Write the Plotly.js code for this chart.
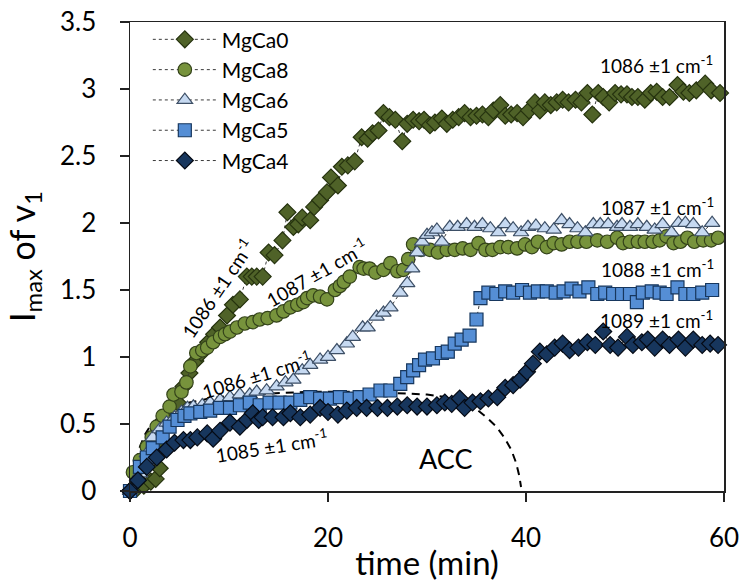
<!DOCTYPE html>
<html>
<head>
<meta charset="utf-8">
<script src="https://cdn.plot.ly/plotly-3.0.1.min.js"></script>
<style>html,body{margin:0;padding:0;background:#fff;}#chart{width:743px;height:582px;}</style>
</head>
<body>
<div id="chart"></div>
<script>
// ---- data ----
var seriesNames = ["MgCa0", "MgCa8", "MgCa6", "MgCa5", "MgCa4"];

var mgca0X = [0,0.7,1.4,2.1,2.6,3.0,3.6,4.2,4.8,5.4,6.0,6.6,7.2,7.9,8.5,9.1,9.8,10.4,11.1,11.8,12.3,12.8,13.4,14.0,14.6,15.4,15.9,16.5,17.0,17.4,18.2,18.6,19.2,19.9,20.3,21.0,21.4,22.0,22.7,23.4,24.0,24.5,25.1,25.6,26.2,26.8,27.5,28.0,28.6,29.2,29.7,30.3,30.8,31.5,32.0,32.6,33.2,33.8,34.4,35.0,35.6,36.2,36.7,37.4,37.9,38.5,39.1,39.7,40.3,40.9,41.4,41.9,42.5,43.1,43.7,44.3,45.0,45.6,46.2,46.7,47.3,47.8,48.4,49.0,49.6,50.2,50.7,51.3,52.0,52.6,53.2,53.8,54.5,55.3,55.9,56.5,57.2,58.1,58.7,59.6];
var mgca0Y = [0,0.02,0.04,0.07,0.09,0.17,0.35,0.52,0.66,0.78,0.88,0.97,1.03,1.11,1.17,1.22,1.31,1.39,1.43,1.60,1.60,1.60,1.60,1.78,1.76,1.87,2.08,1.97,1.99,2.04,2.02,2.12,2.17,2.23,2.34,2.28,2.42,2.43,2.46,2.64,2.63,2.67,2.69,2.82,2.79,2.77,2.61,2.74,2.77,2.76,2.77,2.73,2.75,2.78,2.74,2.77,2.79,2.82,2.79,2.80,2.81,2.79,2.84,2.88,2.80,2.81,2.82,2.79,2.84,2.90,2.84,2.90,2.88,2.90,2.92,2.90,2.92,2.90,2.97,2.81,2.97,2.94,2.90,2.97,2.96,2.96,2.94,2.94,2.92,2.97,2.98,2.94,2.94,3.03,2.98,2.97,2.99,3.04,2.99,2.97];

var mgca8X = [0,0.3,1.0,1.7,2.2,2.7,3.3,4.0,4.4,5.2,5.7,6.1,6.7,7.3,7.8,8.4,9.1,9.6,10.1,10.8,11.6,12.4,13.1,13.9,14.8,15.5,16.2,16.9,17.5,17.9,18.5,19.2,19.9,20.7,21.2,21.6,22.2,23.2,23.6,24.2,24.8,25.6,26.3,27.0,27.6,28.1,28.6,29.4,30.3,31.1,32.0,32.8,33.6,34.4,35.2,35.9,36.6,37.4,38.2,39.1,39.9,40.6,41.2,42.1,42.8,43.6,44.4,45.2,46.1,47.2,48.2,49.2,49.8,50.5,51.3,52.0,52.8,53.5,54.2,54.9,55.6,56.3,57.0,57.9,58.7,59.4];
var mgca8Y = [0,0.14,0.23,0.33,0.40,0.48,0.56,0.63,0.72,0.74,0.81,0.93,1.03,1.05,1.07,1.11,1.15,1.17,1.19,1.22,1.25,1.26,1.28,1.29,1.31,1.34,1.37,1.39,1.41,1.44,1.46,1.45,1.43,1.50,1.53,1.56,1.60,1.67,1.66,1.66,1.63,1.65,1.70,1.64,1.65,1.73,1.84,1.80,1.80,1.78,1.80,1.80,1.81,1.80,1.85,1.80,1.80,1.82,1.82,1.81,1.84,1.82,1.86,1.82,1.85,1.84,1.86,1.86,1.86,1.87,1.86,1.89,1.85,1.86,1.86,1.86,1.86,1.87,1.90,1.85,1.86,1.89,1.86,1.87,1.87,1.89];

var mgca6X = [0,1.0,1.7,2.3,3.0,3.7,4.5,5.2,5.8,6.4,7.3,8.1,9.1,10.1,11.1,12.1,12.8,13.8,14.8,15.7,16.5,17.4,18.2,19.2,20.0,20.9,21.9,22.5,23.5,24.0,24.9,25.6,26.3,27.3,28.0,28.5,29.0,29.5,30.0,30.5,31.0,31.5,32.3,33.1,34.0,34.8,35.6,36.4,37.2,37.9,38.7,39.5,40.2,41.0,41.9,42.8,43.6,44.4,45.2,46.0,46.8,47.5,48.3,49.2,49.7,50.5,51.3,52.2,53.0,53.8,54.7,55.4,56.1,56.9,57.8,58.8];
var mgca6Y = [0,0.13,0.28,0.40,0.46,0.51,0.55,0.59,0.62,0.63,0.64,0.66,0.68,0.70,0.72,0.72,0.74,0.75,0.78,0.81,0.83,0.90,0.94,0.98,1.00,1.05,1.10,1.15,1.22,1.22,1.30,1.33,1.37,1.48,1.55,1.66,1.78,1.86,1.91,1.93,1.95,1.86,1.97,1.97,1.99,1.97,1.99,1.96,1.93,1.99,1.96,1.93,1.97,1.98,1.96,1.95,2.02,1.99,1.96,1.93,1.99,1.99,1.99,1.97,1.99,1.97,1.99,1.97,1.95,1.99,1.93,2.00,2.00,1.99,1.93,2.00];

var mgca5X = [0,1.0,1.7,2.3,3.3,4.0,4.8,5.5,6.1,7.1,8.1,9.1,10.1,11.1,12.1,13.1,14.1,15.1,16.2,17.2,18.2,19.2,20.2,21.2,22.2,23.2,24.2,25.3,26.3,27.3,28.0,28.6,29.2,29.8,30.6,31.5,32.1,32.8,33.5,34.3,35.0,35.4,36.2,37.0,37.9,38.7,39.6,40.4,41.2,42.1,43.0,43.8,44.6,45.4,46.3,47.2,48.0,48.8,49.7,50.5,51.2,51.8,52.7,53.5,54.2,55.3,56.1,56.9,57.8,58.8];
var mgca5Y = [0,0.18,0.25,0.32,0.40,0.48,0.53,0.56,0.58,0.59,0.60,0.62,0.62,0.64,0.66,0.64,0.66,0.66,0.66,0.68,0.70,0.69,0.69,0.70,0.69,0.70,0.72,0.75,0.75,0.80,0.85,0.90,0.94,0.98,0.99,1.03,1.04,1.10,1.13,1.16,1.28,1.44,1.48,1.47,1.49,1.48,1.50,1.48,1.49,1.49,1.48,1.49,1.51,1.49,1.52,1.47,1.48,1.47,1.47,1.47,1.41,1.48,1.49,1.48,1.47,1.52,1.47,1.47,1.48,1.50];

var mgca4X = [0,0.8,1.7,2.7,3.7,4.5,5.4,6.1,6.8,7.8,8.4,9.1,10.1,11.1,11.8,12.4,13.0,13.4,14.4,15.5,16.2,17.2,18.2,19.2,20.0,21.0,21.9,22.9,23.9,25.0,26.0,27.0,28.0,29.0,30.0,31.0,31.8,32.5,33.3,33.8,34.6,35.4,36.2,37.1,37.9,38.7,39.4,40.1,40.7,41.4,42.1,42.9,43.7,44.4,45.3,46.2,47.0,47.8,48.5,49.3,50.2,50.8,51.7,52.3,53.0,53.8,54.5,55.4,56.1,56.9,57.8,58.6,59.4];
var mgca4Y = [0,0.08,0.18,0.25,0.31,0.36,0.38,0.38,0.40,0.43,0.39,0.45,0.51,0.48,0.53,0.58,0.53,0.55,0.55,0.55,0.58,0.55,0.57,0.62,0.59,0.57,0.60,0.62,0.62,0.62,0.62,0.63,0.64,0.63,0.63,0.64,0.66,0.65,0.69,0.62,0.66,0.67,0.69,0.70,0.77,0.79,0.83,0.89,0.95,1.04,1.02,1.07,1.10,1.05,1.07,1.11,1.09,1.19,1.09,1.07,1.15,1.09,1.11,1.13,1.07,1.13,1.09,1.13,1.07,1.13,1.09,1.10,1.09];

// ACC guide curve (dashed)
var accX = [0.3,1,1.5,2,3,4,5,6,8,10,12,15,18,21,24,27,30,32,33.5,35,36,37,37.8,38.5,39,39.3,39.5];
var accY = [0.12,0.33,0.42,0.48,0.56,0.61,0.64,0.66,0.69,0.71,0.72,0.73,0.74,0.74,0.74,0.73,0.72,0.70,0.67,0.61,0.55,0.48,0.40,0.31,0.21,0.12,0.03];

// labels
var bandLabels = ["1086 \u00b11 cm<sup>-1</sup>", "1087 \u00b11 cm<sup>-1</sup>", "1088 \u00b11 cm<sup>-1</sup>", "1089 \u00b11 cm<sup>-1</sup>",
                  "1086 \u00b11 cm<sup>-1</sup>", "1087 \u00b11 cm<sup>-1</sup>", "1086 \u00b11 cm<sup>-1</sup>", "1085 \u00b11 cm<sup>-1</sup>"];
var bandLabelX = [53.2, 53.3, 53.3, 53.2, 8.8, 18.8, 12.8, 14.3];
var bandLabelY = [3.18, 2.12, 1.66, 1.28, 1.51, 1.63, 0.87, 0.34];
var bandLabelAngle = [0, 0, 0, 0, -56, -30, -17, -9];
var accLabel = "ACC";
var accLabelX = 31.9, accLabelY = 0.24;

var xTickVals = [0, 20, 40, 60];
var yTickVals = [0, 0.5, 1, 1.5, 2, 2.5, 3, 3.5];

// ---- styles ----
var FONT = "Lato, 'Open Sans', sans-serif";
var connLine = {color: "#3a3a3a", width: 1, dash: "3px,3px"};

function series(name, x, y, symbol, size, fill, edge) {
  return {
    type: "scatter", mode: "lines+markers", name: name, x: x, y: y,
    line: connLine, cliponaxis: false,
    marker: {symbol: symbol, size: size, color: fill, line: {color: edge, width: 1.2}}
  };
}

var traces = [
  {type: "scatter", mode: "lines", x: accX, y: accY, showlegend: false, hoverinfo: "skip",
   line: {color: "#000", width: 2, dash: "8px,6px"}},
  series(seriesNames[0], mgca0X, mgca0Y, "diamond", 13, "#4F6228", "#26330F"),
  series(seriesNames[1], mgca8X, mgca8Y, "circle", 13.5, "#77933C", "#34431A"),
  series(seriesNames[2], mgca6X, mgca6Y, "triangle-up", 13.5, "#C6D9F1", "#3D4F66"),
  series(seriesNames[3], mgca5X, mgca5Y, "square", 13, "#558ED5", "#17375E"),
  series(seriesNames[4], mgca4X, mgca4Y, "diamond", 13, "#17365D", "#050A14")
];

var annotations = [];
for (var i = 0; i < bandLabels.length; i++) {
  annotations.push({x: bandLabelX[i], y: bandLabelY[i], xref: "x", yref: "y", text: bandLabels[i],
    showarrow: false, textangle: bandLabelAngle[i], font: {family: FONT, size: 19, color: "#000"}});
}
annotations.push({x: accLabelX, y: accLabelY, xref: "x", yref: "y", text: accLabel, showarrow: false,
  font: {family: FONT, size: 27, color: "#000"}});

var layout = {
  width: 743, height: 582,
  margin: {l: 130, r: 19, t: 22, b: 91, pad: 0},
  paper_bgcolor: "#fff", plot_bgcolor: "#fff",
  font: {family: FONT, color: "#000"},
  showlegend: true,
  legend: {x: 0.03, y: 1.006, xanchor: "left", yanchor: "top", bgcolor: "rgba(255,255,255,0)",
           font: {family: FONT, size: 21, color: "#000"}, itemwidth: 64, tracegroupgap: 0},
  xaxis: {range: [0, 60], tickvals: xTickVals, ticks: "outside", ticklen: 9, tickwidth: 1.5, tickcolor: "#222",
          showline: true, linecolor: "#222", linewidth: 1.5, mirror: true, showgrid: false, zeroline: false,
          tickfont: {family: FONT, size: 26, color: "#000"}, ticklabelstandoff: 14,
          title: {text: "time (min)", font: {family: FONT, size: 33, color: "#000"}, standoff: 4}},
  yaxis: {range: [0, 3.5], tickvals: yTickVals, ticks: "outside", ticklen: 9, tickwidth: 1.5, tickcolor: "#222",
          showline: true, linecolor: "#222", linewidth: 1.5, mirror: true, showgrid: false, zeroline: false,
          tickfont: {family: FONT, size: 26, color: "#000"}, ticklabelstandoff: 18,
          title: {text: "I<sub>max</sub> of v<sub>1</sub>", font: {family: FONT, size: 34, color: "#000"}, standoff: 14}},
  annotations: annotations
};

Plotly.newPlot("chart", traces, layout, {displayModeBar: false, staticPlot: true});
</script>
</body>
</html>
